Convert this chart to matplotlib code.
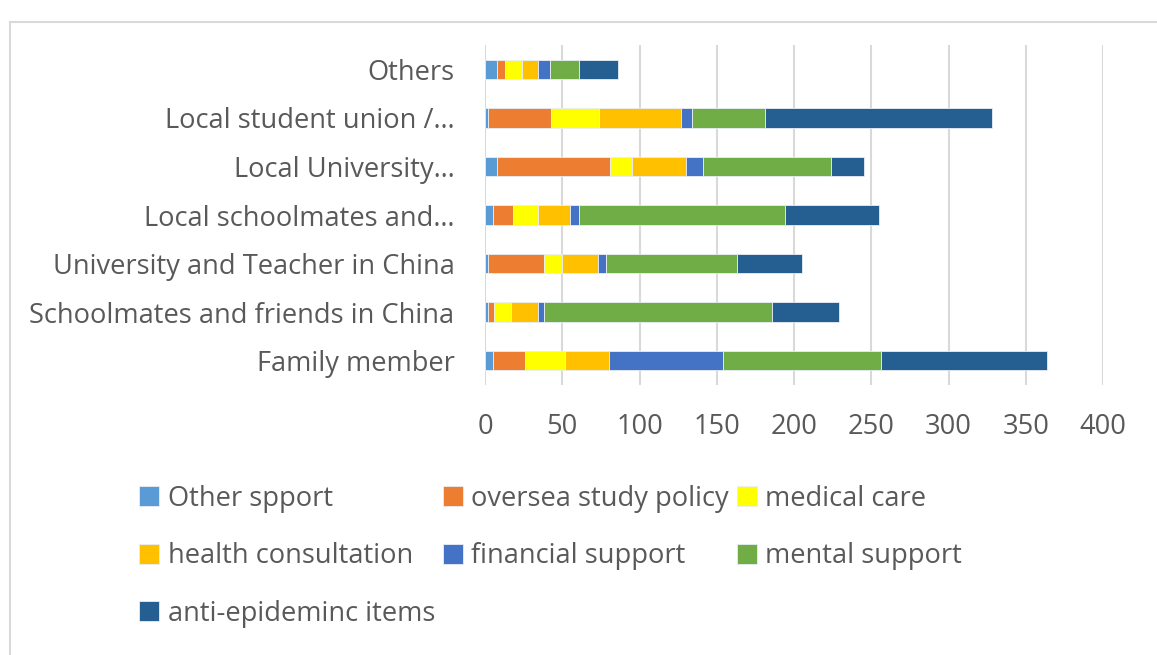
import matplotlib
matplotlib.use("Agg")
import matplotlib.pyplot as plt
from matplotlib.lines import Line2D
import numpy as np

categories = ["Family member", "Schoolmates and friends in China", "University and Teacher in China",
              "Local schoolmates and…", "Local University…", "Local student union /…", "Others"]
series_names = ["Other spport", "oversea study policy", "medical care", "health consultation",
                "financial support", "mental support", "anti-epideminc items"]
other_support = [5, 2, 2, 5, 8, 2, 8]
oversea_policy = [21, 4, 36, 13, 73, 41, 5]
medical_care = [26, 11, 12, 16, 14, 31, 11]
health_consult = [28, 17, 23, 21, 35, 53, 10]
financial = [74, 4, 5, 6, 11, 7, 8]
mental = [102, 148, 85, 133, 83, 47, 19]
anti_epidemic = [108, 43, 42, 61, 21, 147, 25]
xticks = [0, 50, 100, 150, 200, 250, 300, 350, 400]

colors = ["#5B9BD5", "#ED7D31", "#FFFF00", "#FFC000", "#4472C4", "#70AD47", "#255E91"]
data = [other_support, oversea_policy, medical_care, health_consult, financial, mental, anti_epidemic]

W, H = 1157, 655
fig = plt.figure(figsize=(W / 100, H / 100), dpi=100)
plt.rcParams['font.family'] = ['Open Sans', 'DejaVu Sans']

# fit font size so the longest label matches the reference width
renderer = fig.canvas.get_renderer()
t = fig.text(0, 0, "University and Teacher in China", fontsize=18)
w = t.get_window_extent(renderer).width
t.remove()
fs = 18 * 402 / w

ax = fig.add_axes([485 / W, 1 - 385 / H, (1103 - 485) / W, (385 - 45) / H])
y = np.arange(len(categories))
left = np.zeros(len(categories))
handles = []
for name, vals, c in zip(series_names, data, colors):
    b = ax.barh(y, vals, left=left, height=0.4, color=c, label=name,
                edgecolor="#e8eef5", linewidth=0.6)
    handles.append(b)
    left += np.array(vals)

ax.set_xlim(0, 400)
ax.set_ylim(-0.5, len(categories) - 0.5)
ax.set_xticks(xticks)
ax.set_xticklabels([str(v) for v in xticks])
ax.set_yticks(y)
ax.set_yticklabels(categories)
ax.tick_params(axis='both', length=0, labelsize=fs, labelcolor="#595959")
ax.tick_params(axis='y', pad=22)
ax.tick_params(axis='x', pad=20)
ax.grid(axis='x', color="#D9D9D9", linewidth=1.5)
ax.set_axisbelow(True)
for s in ax.spines.values():
    s.set_visible(False)

order = [0, 3, 6, 1, 4, 2, 5]
leg = fig.legend([handles[i] for i in order], [series_names[i] for i in order],
                 ncol=3, loc="upper left", bbox_to_anchor=(128 / W, 1 - 474 / H),
                 frameon=False, fontsize=fs, labelcolor="#595959",
                 handlelength=0.75, handleheight=0.75, handletextpad=0.3,
                 columnspacing=0.28, labelspacing=1.08, borderaxespad=0)

# outer border
fig.add_artist(Line2D([10 / W, 10 / W], [0, 1 - 22 / H], color="#D9D9D9", lw=1.5,
                      transform=fig.transFigure))
fig.add_artist(Line2D([10 / W, 1], [1 - 22 / H, 1 - 22 / H], color="#D9D9D9", lw=1.5,
                      transform=fig.transFigure))

fig.savefig("out.png", dpi=100)
